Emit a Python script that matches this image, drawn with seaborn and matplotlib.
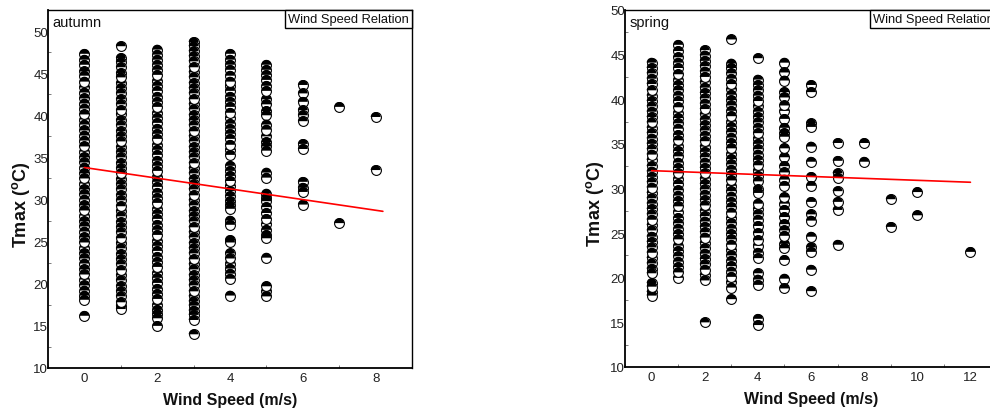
import matplotlib
matplotlib.use("Agg")
import matplotlib.pyplot as plt
from matplotlib import font_manager
from matplotlib.markers import MarkerStyle
from matplotlib.offsetbox import AnchoredText
from matplotlib.ticker import MultipleLocator
import pandas as pd
import seaborn as sns

# ---- Autumn: daily Tmax (degC) observed at each wind speed (m/s) ----
aut_ws0 = [47.3, 46.6, 46.0, 45.2, 44.7, 44.0, 43.3, 42.7, 42.0, 41.4, 40.8, 40.1, 39.5, 38.9,
           38.2, 37.6, 37.0, 36.3, 35.7, 35.0, 34.4, 33.8, 33.1, 32.5, 31.9, 31.2, 30.6, 30.0,
           29.3, 28.7, 28.1, 27.4, 26.8, 26.2, 25.5, 24.9, 24.3, 23.6, 23.0, 22.4, 21.7, 21.1,
           20.5, 19.8, 19.2, 18.6, 18.1, 16.2]
aut_ws1 = [48.2, 46.8, 46.3, 45.7, 45.0, 44.5, 43.8, 43.2, 42.6, 41.9, 41.3, 40.6, 40.1, 39.4,
           38.8, 38.1, 37.5, 36.9, 36.2, 35.6, 35.0, 34.3, 33.7, 33.1, 32.4, 31.8, 31.2, 30.5,
           29.9, 29.2, 28.6, 28.0, 27.3, 26.7, 26.1, 25.4, 24.8, 24.2, 23.5, 22.9, 22.3, 21.6,
           21.0, 20.4, 19.7, 19.1, 18.5, 17.8, 17.4, 17.0]
aut_ws2 = [47.8, 47.2, 46.6, 46.0, 45.4, 44.8, 44.1, 43.5, 42.9, 42.2, 41.6, 41.0, 40.3, 39.7,
           39.1, 38.4, 37.8, 37.2, 36.5, 35.9, 35.3, 34.6, 34.0, 33.4, 32.7, 32.1, 31.5, 30.8,
           30.2, 29.6, 28.9, 28.3, 27.7, 27.0, 26.4, 25.8, 25.1, 24.5, 23.9, 23.2, 22.6, 22.0,
           21.3, 20.7, 20.1, 19.4, 18.8, 18.2, 17.5, 16.9, 16.4, 15.9, 15.0]
aut_ws3 = [48.7, 48.2, 47.6, 47.0, 46.4, 45.7, 45.1, 44.5, 43.8, 43.2, 42.6, 41.9, 41.3, 40.7,
           40.0, 39.4, 38.8, 38.1, 37.5, 36.9, 36.2, 35.6, 35.0, 34.3, 33.7, 33.1, 32.4, 31.8,
           31.2, 30.5, 29.9, 29.3, 28.6, 28.0, 27.4, 26.7, 26.1, 25.5, 24.8, 24.2, 23.6, 22.9,
           22.3, 21.7, 21.0, 20.4, 19.8, 19.1, 18.5, 17.9, 17.4, 16.8, 16.3, 15.7, 14.0]
aut_ws4 = [47.3, 46.6, 46.0, 45.4, 44.7, 44.0, 43.5, 42.9, 42.2, 41.6, 41.0, 40.3, 39.7, 39.0,
           38.4, 37.8, 37.2, 36.5, 35.9, 35.3, 34.0, 33.4, 32.8, 32.2, 31.6, 31.0, 30.4, 29.8,
           29.3, 28.9, 27.5, 27.0, 25.2, 24.9, 23.6, 23.0, 22.4, 21.8, 21.2, 20.6, 18.6]
aut_ws5 = [46.0, 45.4, 44.8, 44.2, 43.5, 42.9, 41.9, 41.3, 40.5, 40.0, 38.9, 38.3, 37.5, 36.8,
           36.3, 35.8, 33.2, 32.6, 30.7, 30.2, 29.8, 29.1, 28.4, 27.7, 27.1, 26.4, 25.8, 25.4,
           23.1, 19.7, 19.1, 18.5]
aut_ws6 = [43.6, 42.6, 41.6, 40.6, 40.0, 39.3, 36.6, 36.0, 32.1, 31.4, 30.9, 29.4]
aut_ws7 = [41.0, 27.2]
aut_ws8 = [39.8, 33.5]

# ---- Spring ----
spr_ws0 = [44.1, 43.5, 42.9, 42.3, 41.7, 41.0, 40.4, 39.8, 39.2, 38.6, 38.0, 37.4, 36.8, 36.2,
           35.6, 35.0, 34.4, 33.8, 33.2, 32.5, 31.9, 31.3, 30.7, 30.1, 29.5, 28.9, 28.3, 27.7,
           27.1, 26.5, 25.9, 25.3, 24.6, 24.0, 23.4, 22.8, 22.2, 21.6, 21.0, 20.5, 19.4, 19.0,
           18.4, 18.0]
spr_ws1 = [46.1, 45.4, 44.7, 44.1, 43.5, 42.8, 42.2, 41.6, 41.0, 40.4, 39.8, 39.1, 38.5, 37.9,
           37.3, 36.7, 36.0, 35.4, 34.8, 34.2, 33.6, 32.9, 32.3, 31.7, 31.1, 30.5, 29.8, 29.2,
           28.6, 28.0, 27.4, 26.7, 26.1, 25.5, 24.9, 24.3, 23.6, 23.0, 22.4, 21.8, 21.2, 20.6,
           20.0]
spr_ws2 = [45.5, 44.9, 44.3, 43.7, 43.1, 42.5, 41.9, 41.3, 40.7, 40.1, 39.5, 38.9, 38.3, 37.7,
           37.1, 36.5, 35.9, 35.3, 34.7, 34.1, 33.5, 32.9, 32.3, 31.7, 31.1, 30.5, 29.9, 29.3,
           28.7, 28.1, 27.5, 26.9, 26.3, 25.7, 25.1, 24.5, 23.9, 23.3, 22.7, 22.1, 21.5, 20.9,
           20.3, 19.7, 15.0]
spr_ws3 = [46.7, 44.0, 43.5, 42.9, 42.3, 41.7, 41.1, 40.5, 39.9, 39.3, 38.7, 38.1, 37.5, 36.9,
           36.3, 35.7, 35.1, 34.5, 33.9, 33.3, 32.7, 32.1, 31.5, 30.9, 30.3, 29.7, 29.1, 28.5,
           27.9, 27.3, 26.7, 26.1, 25.5, 24.9, 24.3, 23.7, 23.1, 22.5, 21.9, 21.3, 20.7, 20.1,
           19.5, 18.9, 17.6]
spr_ws4 = [44.6, 42.2, 41.6, 41.0, 40.4, 39.8, 39.2, 38.6, 38.0, 37.4, 36.8, 36.2, 35.6, 35.0,
           34.4, 33.8, 33.2, 32.6, 32.0, 31.4, 30.8, 29.9, 29.5, 28.3, 27.7, 27.1, 26.5, 25.8,
           25.0, 24.2, 23.6, 22.8, 22.2, 20.5, 19.8, 19.2, 15.4, 14.7]
spr_ws5 = [44.1, 43.0, 42.1, 40.8, 40.2, 39.3, 38.7, 37.8, 36.8, 36.2, 35.8, 34.5, 33.5, 32.5,
           31.8, 31.0, 30.3, 29.0, 28.3, 27.6, 26.8, 26.0, 25.3, 24.7, 23.8, 23.3, 22.0, 19.9,
           18.8]
spr_ws6 = [41.6, 40.8, 37.3, 36.9, 34.7, 33.0, 31.3, 30.3, 28.5, 27.1, 26.4, 24.6, 23.4, 22.9,
           20.9, 18.5]
spr_ws7 = [35.1, 33.1, 31.7, 31.2, 29.7, 28.5, 27.6, 23.7]
spr_ws8 = [35.1, 33.0]
spr_ws9 = [28.8, 25.7]
spr_ws10 = [29.6, 27.0]
spr_ws12 = [22.9]

# Least-squares trend lines (endpoints of the fitted line)
aut_fit_ws = [0.0, 8.2]
aut_fit_tmax = [33.8, 28.6]
spr_fit_ws = [0.0, 12.0]
spr_fit_tmax = [32.0, 30.7]

aut_columns = {0: aut_ws0, 1: aut_ws1, 2: aut_ws2, 3: aut_ws3, 4: aut_ws4,
               5: aut_ws5, 6: aut_ws6, 7: aut_ws7, 8: aut_ws8}
spr_columns = {0: spr_ws0, 1: spr_ws1, 2: spr_ws2, 3: spr_ws3, 4: spr_ws4, 5: spr_ws5,
               6: spr_ws6, 7: spr_ws7, 8: spr_ws8, 9: spr_ws9, 10: spr_ws10, 12: spr_ws12}


def to_frame(columns):
    rows = []
    for ws, temps in columns.items():
        for i, t in enumerate(temps):
            # every sixth observation is redrawn on top so some markers overlap fully
            rows.append({"wind": ws, "tmax": t, "layer": 1 if i % 6 == 5 else 0})
    return pd.DataFrame(rows)


def first_font(candidates):
    for name in candidates:
        try:
            font_manager.findfont(font_manager.FontProperties(family=name),
                                  fallback_to_default=False)
            return name
        except ValueError:
            continue
    return "DejaVu Sans"


sns.set_theme(style="white")
SANS = first_font(["Liberation Sans Narrow", "Arial Narrow", "Liberation Sans"])
plt.rcParams["font.family"] = [SANS, "Liberation Sans", "DejaVu Sans"]
plt.rcParams["mathtext.fontset"] = "custom"
plt.rcParams["mathtext.rm"] = "Liberation Sans"
plt.rcParams["mathtext.bf"] = "Liberation Sans:bold"

HALF_TOP = MarkerStyle("o", fillstyle="top")


def draw_panel(ax, df, fit_x, fit_y, season, xlim, ylim, xmax_tick, ylab_x):
    for layer in (0, 1):
        sub = df[df["layer"] == layer]
        sns.scatterplot(data=sub, x="wind", y="tmax", ax=ax, marker="o", s=50,
                        color="white", edgecolor="black", linewidth=0.8,
                        legend=False, zorder=2)
        sns.scatterplot(data=sub, x="wind", y="tmax", ax=ax, marker=HALF_TOP, s=50,
                        color="black", edgecolor="none", linewidth=0,
                        legend=False, zorder=2)
    sns.lineplot(x=fit_x, y=fit_y, ax=ax, color="red", linewidth=1.2, zorder=3)

    ax.set_xlim(*xlim)
    ax.set_ylim(*ylim)
    ax.set_xticks(range(0, xmax_tick + 1, 2))
    ax.set_yticks(range(10, 51, 5))
    ax.xaxis.set_minor_locator(MultipleLocator(1))
    ax.yaxis.set_minor_locator(MultipleLocator(2.5))
    ax.tick_params(which="major", length=0, labelsize=9.5, colors="#222222")
    ax.tick_params(axis="y", which="major", pad=0)
    ax.tick_params(axis="x", which="major", pad=3)
    ax.tick_params(which="minor", direction="in", length=2.5, width=0.6,
                   color="#666666", bottom=True, left=True)

    ax.set_xlabel("Wind Speed (m/s)", fontsize=11.5, fontweight="bold",
                  color="#111111", labelpad=6)
    ax.set_ylabel(r"Tmax ($\mathbf{^o}$C)", fontsize=13, fontweight="bold",
                  family=["Liberation Sans", "DejaVu Sans"], color="#111111")
    ax.yaxis.set_label_coords(ylab_x, 0.46)

    for side, sp in ax.spines.items():
        sp.set_visible(True)
        sp.set_color("black")
        sp.set_linewidth(1.3 if side in ("left", "bottom") else 1.0)

    ax.text(0.012, 0.985, season, transform=ax.transAxes, ha="left", va="top",
            fontsize=10.5, color="#111111")
    box = AnchoredText("Wind Speed Relation", loc="upper right", frameon=True,
                       borderpad=0, pad=0.25,
                       prop=dict(size=9.3, color="#111111"))
    box.patch.set_edgecolor("black")
    box.patch.set_linewidth(1.0)
    box.patch.set_boxstyle("square,pad=0")
    ax.add_artist(box)


fig = plt.figure(figsize=(9.9, 4.14), dpi=100)
ax_aut = fig.add_axes([48 / 990, 45 / 414, 364 / 990, 358 / 414])
ax_spr = fig.add_axes([625 / 990, 46 / 414, 372 / 990, 357 / 414])

draw_panel(ax_aut, to_frame(aut_columns), aut_fit_ws, aut_fit_tmax, "autumn",
           (-1, 9), (10, 52.5), 8, -16 / 364)
draw_panel(ax_spr, to_frame(spr_columns), spr_fit_ws, spr_fit_tmax, "spring",
           (-1, 13), (10, 50), 12, -19 / 372)

fig.savefig("out.png", dpi=100, facecolor="white")
